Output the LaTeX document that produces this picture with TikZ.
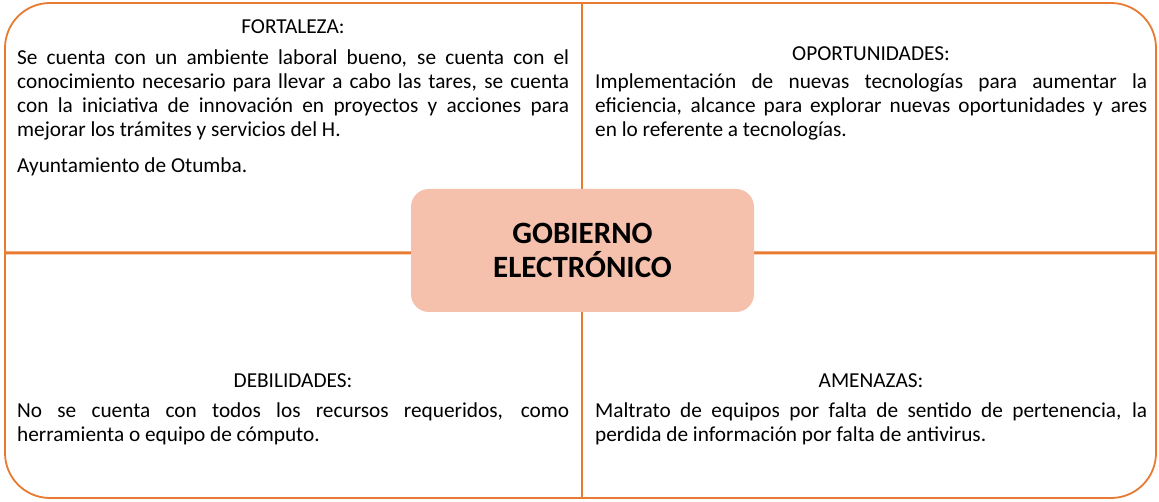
\documentclass[tikz,border=0pt]{standalone}
\usepackage{fontspec}
\setmainfont{Carlito}
\definecolor{borde}{RGB}{233,122,50}
\definecolor{centro}{RGB}{245,192,172}
\newcommand\parasetup{\hyphenpenalty=10000 \exhyphenpenalty=10000 \emergencystretch=20pt\relax\noindent\strut}
\begin{document}
\begin{tikzpicture}[x=1pt,y=1pt,
  quad/.style={draw=borde,line width=1.8pt,fill=white},
  head/.style={anchor=base,inner sep=0pt,font=\fontsize{21.3}{24}\selectfont},
  para/.style={anchor=north west,inner sep=0pt,text width=552pt,align=justify,
    font=\fontsize{21.3}{24}\selectfont},
  titlebox/.style={fill=centro,draw=none,rounded corners=18pt,minimum width=343pt,minimum height=123pt,
    align=center,font=\fontsize{31}{34}\selectfont\bfseries}]
\useasboundingbox (0,0) rectangle (1159,501);
% quadrants
\draw[quad] (5,248.8) -- (5,453) arc[start angle=180,end angle=90,radius=45] -- (582,498) -- (582,248.8) -- cycle;
\draw[quad] (582,248.8) -- (582,498) -- (1111,498) arc[start angle=90,end angle=0,radius=45] -- (1156,248.8) -- cycle;
\draw[quad] (5,247.6) -- (5,48) arc[start angle=180,end angle=270,radius=45] -- (582,3) -- (582,247.6) -- cycle;
\draw[quad] (582,247.6) -- (582,3) -- (1111,3) arc[start angle=270,end angle=360,radius=45] -- (1156,247.6) -- cycle;
% texts
\node[head] (hf) at (293,467) {FORTALEZA:};
\node[para] (pf) at (17,453.8) {\parasetup Se cuenta con un ambiente laboral bueno, se cuenta con el\linebreak
conocimiento necesario para llevar a cabo las tares, se cuenta\linebreak
con la iniciativa de innovación en proyectos y acciones para\linebreak
mejorar los trámites y servicios del H.\par\vspace{12pt}\noindent Ayuntamiento de Otumba.};
\node[head] (ho) at (871,440.5) {OPORTUNIDADES:};
\node[para] (po) at (595,429.3) {\parasetup Implementación de nuevas tecnologías para aumentar la\linebreak
eficiencia, alcance para explorar nuevas oportunidades y ares\linebreak
en lo referente a tecnologías.};
\node[head] (hd) at (293,113.5) {DEBILIDADES:};
\node[para] (pd) at (17,100.3) {\parasetup No se cuenta con todos los recursos requeridos, como\linebreak
herramienta o equipo de cómputo.};
\node[head] (ha) at (871,113.5) {AMENAZAS:};
\node[para] (pa) at (595,100.3) {\parasetup Maltrato de equipos por falta de sentido de pertenencia, la\linebreak
perdida de información por falta de antivirus.};
% centre
\node[titlebox] (ge) at (582.5,250.5) {GOBIERNO\\ELECTRÓNICO};
\end{tikzpicture}
\end{document}
